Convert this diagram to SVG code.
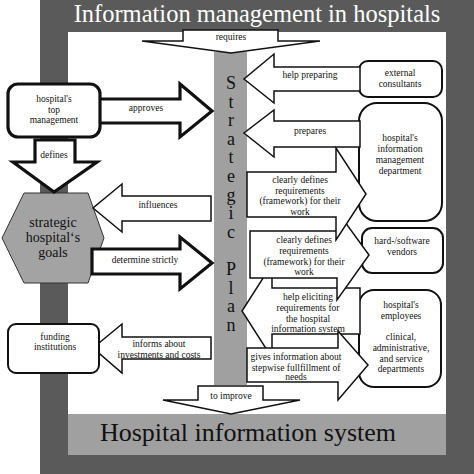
<svg xmlns="http://www.w3.org/2000/svg" width="474" height="474" viewBox="0 0 474 474">
<style>
text{font-family:"Liberation Serif","Times New Roman",serif;fill:#111;text-anchor:middle}
.s{font-size:9.5px}
.thin{fill:#fff;stroke:#111;stroke-width:1.5;stroke-linejoin:miter}
.thick{fill:#fff;stroke:#111;stroke-width:3.2;stroke-linejoin:miter}
.box{fill:#fff;stroke:#111;stroke-width:2}
</style>
<rect x="0" y="0" width="474" height="474" fill="#fff"/>
<rect x="40" y="0" width="434" height="474" fill="#5a5a5a"/>
<rect x="68" y="32" width="378" height="382" fill="#fff"/>
<rect x="68" y="414" width="378" height="41" fill="#a0a0a0"/>
<text x="257" y="22" style="font-size:24.5px;fill:#fff">Information management in hospitals</text>
<text x="248" y="441" style="font-size:26px">Hospital information system</text>
<g id="strategic-plan">
<rect x="214" y="52" width="33" height="333" fill="#a0a0a0"/>
<text x="231" y="89" style="font-size:18px"><tspan x="231">S</tspan><tspan x="231" dy="18.6">t</tspan><tspan x="231" dy="18.6">r</tspan><tspan x="231" dy="18.6">a</tspan><tspan x="231" dy="18.6">t</tspan><tspan x="231" dy="18.6">e</tspan><tspan x="231" dy="18.6">g</tspan><tspan x="231" dy="18.6">i</tspan><tspan x="231" dy="18.6">c</tspan><tspan x="231" dy="37.2">P</tspan><tspan x="231" dy="18.6">l</tspan><tspan x="231" dy="18.6">a</tspan><tspan x="231" dy="18.6">n</tspan></text>
</g>
<g id="goals">
<polygon points="24,193 88,193 104,238 88,283 24,283 2,238" fill="#a3a3a3" stroke="#333" stroke-width="1"/>
<text x="53" y="227" style="font-size:14px">strategic</text>
<text x="53" y="242" style="font-size:14px">hospital‘s</text>
<text x="53" y="257" style="font-size:14px">goals</text>
</g>
<g id="external-consultants">
<rect x="359" y="61" width="83" height="36" rx="9" class="box"/>
<text class="s" x="400" y="76">external</text>
<text class="s" x="400" y="87">consultants</text>
</g>
<g id="im-department">
<rect x="359" y="103" width="83" height="118" rx="18" class="box"/>
<text class="s" x="400" y="141">hospital's</text>
<text class="s" x="400" y="152">information</text>
<text class="s" x="400" y="163">management</text>
<text class="s" x="400" y="174">department</text>
</g>
<g id="vendors">
<rect x="362" y="228" width="81" height="45" rx="10" class="box"/>
<text class="s" x="402" y="244">hard-/software</text>
<text class="s" x="402" y="255">vendors</text>
</g>
<g id="employees">
<rect x="359" y="290" width="82" height="97" rx="15" class="box"/>
<text class="s" x="401" y="308">hospital's</text>
<text class="s" x="401" y="319">employees</text>
<text class="s" x="401" y="340">clinical,</text>
<text class="s" x="401" y="351">administrative,</text>
<text class="s" x="401" y="362">and service</text>
<text class="s" x="401" y="372">departments</text>
</g>
<g id="connectors">
<polygon class="thin" points="183,30 278,30 278,41 320,41 231,53 142,41 183,41"/>
<text class="s" x="231" y="40">requires</text>
<polygon class="thin" points="198,386 263,386 263,400 300,400 231,414 163,400 198,400"/>
<text class="s" x="231" y="399">to improve</text>
<polygon class="thick" points="96,99 180,99 180,84 212,111 180,137 180,123 96,123"/>
<text class="s" x="146" y="111">approves</text>
<polygon class="thick" points="35,140 75,140 75,162 97,162 54,192 13,162 35,162"/>
<text class="s" x="54" y="158">defines</text>
<polygon class="thin" points="211,196 122,196 122,184 93,208 122,232 122,221 211,221"/>
<text class="s" x="158" y="208">influences</text>
<polygon class="thick" points="92,249 180,249 180,237 212,263 180,289 180,274 92,274"/>
<text class="s" x="145" y="263">determine strictly</text>
<polygon class="thin" points="211,337 122,337 122,324 93,348 122,373 122,359 211,359"/>
<text class="s" x="159" y="347">informs about</text>
<text class="s" x="159" y="358">investments and costs</text>
<polygon class="thin" points="360,67 274,67 274,54 244,79 274,103 274,91 360,91"/>
<text class="s" x="310" y="78">help  preparing</text>
<polygon class="thin" points="360,121 274,121 274,110 244,133 274,157 274,147 360,147"/>
<text class="s" x="310" y="134">prepares</text>
<polygon class="thin" points="360,288 272,288 272,264 242,311 272,358 272,334 360,334"/>
<text class="s" x="308" y="300">help eliciting</text>
<text class="s" x="308" y="311">requirements for</text>
<text class="s" x="308" y="322">the hospital</text>
<text class="s" x="308" y="332">information system</text>
<polygon class="thin" points="250,231 337,231 337,211 369,255 337,300 337,278 250,278"/>
<text class="s" x="304" y="243">clearly defines</text>
<text class="s" x="304" y="254">requirements</text>
<text class="s" x="304" y="265">(framework) for their</text>
<text class="s" x="304" y="275">work</text>
<polygon class="thin" points="247,172 336,172 336,148 366,194 336,240 336,217 247,217"/>
<text class="s" x="300" y="183">clearly defines</text>
<text class="s" x="300" y="194">requirements</text>
<text class="s" x="300" y="204">(framework) for their</text>
<text class="s" x="300" y="215">work</text>
<polygon class="thin" points="247,348 338,348 338,331 368,365 338,400 338,382 247,382"/>
<text class="s" x="296" y="360">gives information about</text>
<text class="s" x="296" y="371">stepwise fullfillment of</text>
<text class="s" x="296" y="380">needs</text>
</g>
<g id="top-management">
<rect x="8" y="84" width="92" height="53" rx="10" class="box" style="stroke-width:3.2"/>
<text class="s" x="54" y="102">hospital's</text>
<text class="s" x="54" y="113">top</text>
<text class="s" x="54" y="123">management</text>
</g>
<g id="funding">
<rect x="8" y="324" width="91" height="49" rx="8" class="box"/>
<text class="s" x="55" y="340">funding</text>
<text class="s" x="55" y="350">institutions</text>
</g>
</svg>
